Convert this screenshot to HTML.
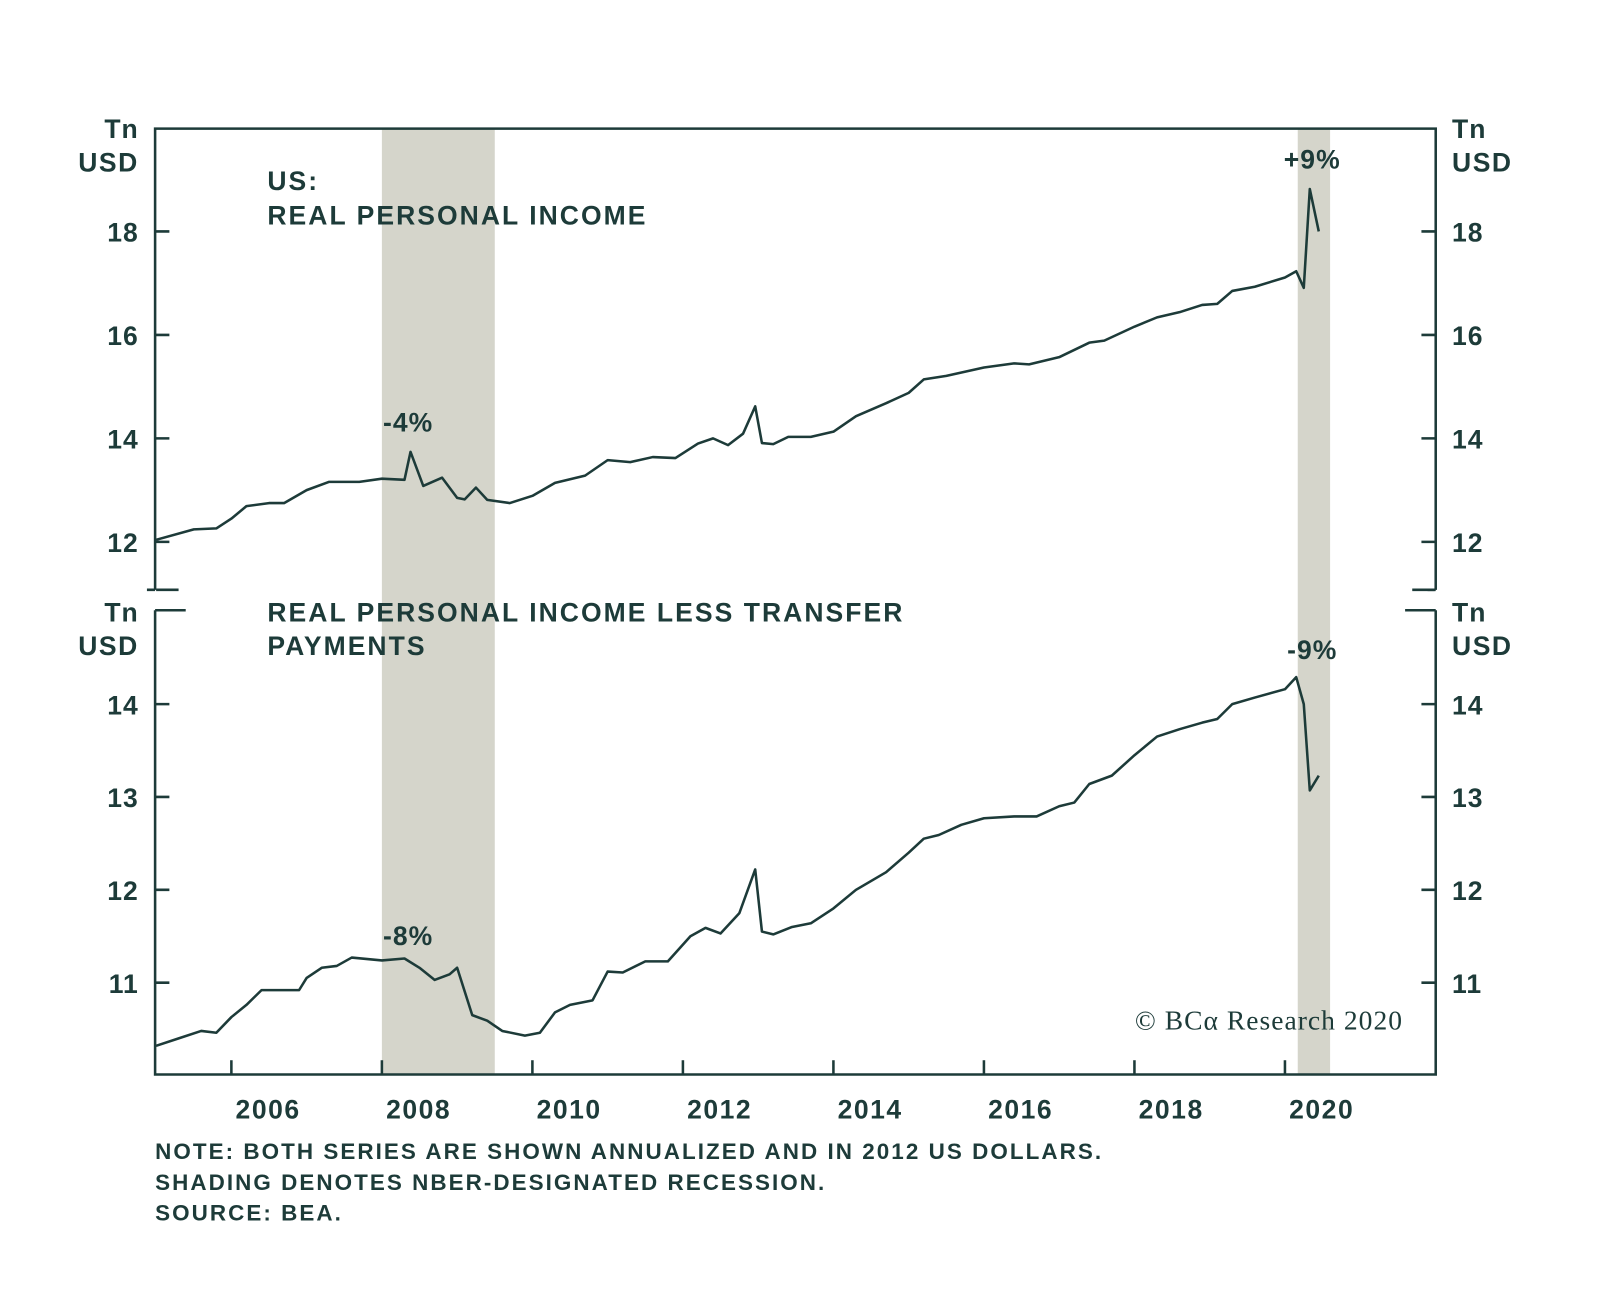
<!DOCTYPE html>
<html><head><meta charset="utf-8"><style>
body{margin:0;background:#fff;}
svg text{font-family:"Liberation Sans",sans-serif;fill:#1d3b39;}
</style></head><body>
<svg id="c" width="1600" height="1298" viewBox="0 0 1568 1272" xmlns="http://www.w3.org/2000/svg"></svg>
<script>
const topDates=[2005.0,2005.5,2005.8,2006.0,2006.2,2006.5,2006.7,2007.0,2007.3,2007.7,2008.0,2008.3,2008.38,2008.55,2008.8,2009.0,2009.1,2009.25,2009.4,2009.7,2010.0,2010.3,2010.7,2011.0,2011.3,2011.6,2011.9,2012.2,2012.4,2012.6,2012.8,2012.96,2013.05,2013.2,2013.4,2013.7,2014.0,2014.3,2014.7,2015.0,2015.2,2015.5,2016.0,2016.4,2016.6,2017.0,2017.4,2017.6,2018.0,2018.3,2018.6,2018.9,2019.1,2019.3,2019.6,2020.0,2020.15,2020.25,2020.33,2020.45];
const topValues=[12.04,12.24,12.26,12.45,12.69,12.75,12.75,13.0,13.16,13.16,13.22,13.2,13.74,13.08,13.24,12.85,12.82,13.05,12.81,12.75,12.89,13.14,13.28,13.58,13.54,13.64,13.62,13.9,14.0,13.87,14.09,14.62,13.91,13.89,14.03,14.03,14.13,14.43,14.68,14.88,15.14,15.21,15.37,15.45,15.43,15.57,15.85,15.89,16.16,16.34,16.44,16.58,16.6,16.85,16.93,17.11,17.23,16.91,18.82,18.0];
const botDates=[2005.0,2005.3,2005.6,2005.8,2006.0,2006.2,2006.4,2006.7,2006.9,2007.0,2007.2,2007.4,2007.6,2008.0,2008.3,2008.5,2008.7,2008.9,2009.0,2009.2,2009.4,2009.6,2009.9,2010.1,2010.3,2010.5,2010.8,2011.0,2011.2,2011.5,2011.8,2012.1,2012.3,2012.5,2012.75,2012.96,2013.05,2013.2,2013.45,2013.7,2014.0,2014.3,2014.7,2015.0,2015.2,2015.4,2015.7,2016.0,2016.4,2016.7,2017.0,2017.2,2017.4,2017.7,2018.0,2018.3,2018.6,2018.9,2019.1,2019.3,2019.6,2020.0,2020.15,2020.25,2020.33,2020.45];
const botValues=[10.32,10.4,10.48,10.46,10.63,10.76,10.92,10.92,10.92,11.05,11.16,11.18,11.27,11.24,11.26,11.16,11.03,11.09,11.16,10.65,10.59,10.48,10.43,10.46,10.68,10.76,10.81,11.12,11.11,11.23,11.23,11.5,11.59,11.53,11.75,12.22,11.55,11.52,11.6,11.64,11.8,12.0,12.19,12.4,12.55,12.59,12.7,12.77,12.79,12.79,12.9,12.94,13.14,13.23,13.45,13.65,13.73,13.8,13.84,14.0,14.07,14.16,14.29,14.0,13.07,13.23];
const topTicks=[12,14,16,18];
const botTicks=[11,12,13,14];
const yearTicks=[2006,2008,2010,2012,2014,2016,2018,2020];
const recessions=[[2008.0,2009.5],[2020.17,2020.6]];

const NS="http://www.w3.org/2000/svg";
const svg=document.getElementById('c');
const C="#1d3b39";
function el(t,a,p){const e=document.createElementNS(NS,t);for(const k in a)e.setAttribute(k,a[k]);(p||svg).appendChild(e);return e;}
const X=d=>153+(d-2005)*73.75;
const YT=v=>531-(v-12)*50.7;
const YB=v=>963-(v-11)*91;
const L=152,R=1407,T=126,TB=578,BT=598,B=1053;

recessions.forEach(r=>{
  const e=el('rect',{x:X(r[0]),y:T,width:X(r[1])-X(r[0]),height:B-T,fill:'#d5d5cb'});
  
  
});
const f1=el('path',{d:`M${L} ${TB}V${T}H${R}V${TB}`,fill:'none',stroke:C,'stroke-width':2.5});

el('path',{d:`M${L} ${TB}h-8 M${R} ${TB}h-8 M${L} ${BT}h30 M${R} ${BT}h-30`,fill:'none',stroke:C,'stroke-width':2.5});
el('path',{d:`M${L+1} ${TB}h22 M${R-1} ${TB}h-22`,fill:'none',stroke:C,'stroke-width':2.5});
const f2=el('path',{d:`M${L} ${BT}V${B}H${R}V${BT}`,fill:'none',stroke:C,'stroke-width':2.5});


function txt(x,y,s,anchor,size,name,ls){const t=el('text',{x:x,y:y,'text-anchor':anchor,'font-size':size,'font-weight':'bold','letter-spacing':ls===undefined?2.0:ls});t.textContent=s;return t;}
topTicks.forEach(v=>{const y=YT(v);el('path',{d:`M${L} ${y}h14 M${R} ${y}h-14`,stroke:C,'stroke-width':2.5});
 txt(136,y+10,String(v),'end',26,'y-tick-label-left',1);txt(1423,y+10,String(v),'start',26,'y-tick-label-right',1);});
botTicks.forEach(v=>{const y=YB(v);el('path',{d:`M${L} ${y}h14 M${R} ${y}h-14`,stroke:C,'stroke-width':2.5});
 txt(136,y+10,String(v),'end',26,'y-tick-label-left',1);txt(1423,y+10,String(v),'start',26,'y-tick-label-right',1);});
yearTicks.forEach(yr=>{const x=X(yr);el('path',{d:`M${x} ${B}v-14`,stroke:C,'stroke-width':2.5});txt(x+36,1096,String(yr),'middle',26,'x-tick-label',1.5);});
[[136,'end'],[1423,'start']].forEach(([x,a])=>{txt(x,135,'Tn',a,26,'y-unit',1);txt(x,168,'USD',a,26,'y-unit',1.5);txt(x,609,'Tn',a,26,'y-unit',1);txt(x,642,'USD',a,26,'y-unit',1.5);});

function line(ds,vs,Y,name){const d=ds.map((t,i)=>(i?'L':'M')+X(t).toFixed(1)+' '+Y(vs[i]).toFixed(1)).join('');
 const p=el('path',{d:d,fill:'none',stroke:C,'stroke-width':2.5,'stroke-linejoin':'round'});}
line(topDates,topValues,YT,'real-personal-income-line');
line(botDates,botValues,YB,'income-less-transfers-line');

txt(262,186,'US:','start',26,'panel-title');
txt(262,220,'REAL PERSONAL INCOME','start',26,'panel-title');
txt(262,609,'REAL PERSONAL INCOME LESS TRANSFER','start',26,'panel-title');
txt(262,642,'PAYMENTS','start',26,'panel-title');
txt(400,423,'-4%','middle',26,'annotation',1);
txt(1286,165,'+9%','middle',26,'annotation',1);
txt(400,926,'-8%','middle',26,'annotation',1);
txt(1286,646,'-9%','middle',26,'annotation',1);
const cr=el('text',{x:1375,y:1009,'text-anchor':'end','font-size':27,'letter-spacing':1});cr.style.fontFamily='"Liberation Serif",serif';cr.textContent='© BCα Research 2020';

txt(152,1136,'NOTE: BOTH SERIES ARE SHOWN ANNUALIZED AND IN 2012 US DOLLARS.','start',22,'note',2.0);
txt(152,1166,'SHADING DENOTES NBER-DESIGNATED RECESSION.','start',22,'note',2.0);
txt(152,1196,'SOURCE: BEA.','start',22,'source',2.0);
</script>
</body></html>
